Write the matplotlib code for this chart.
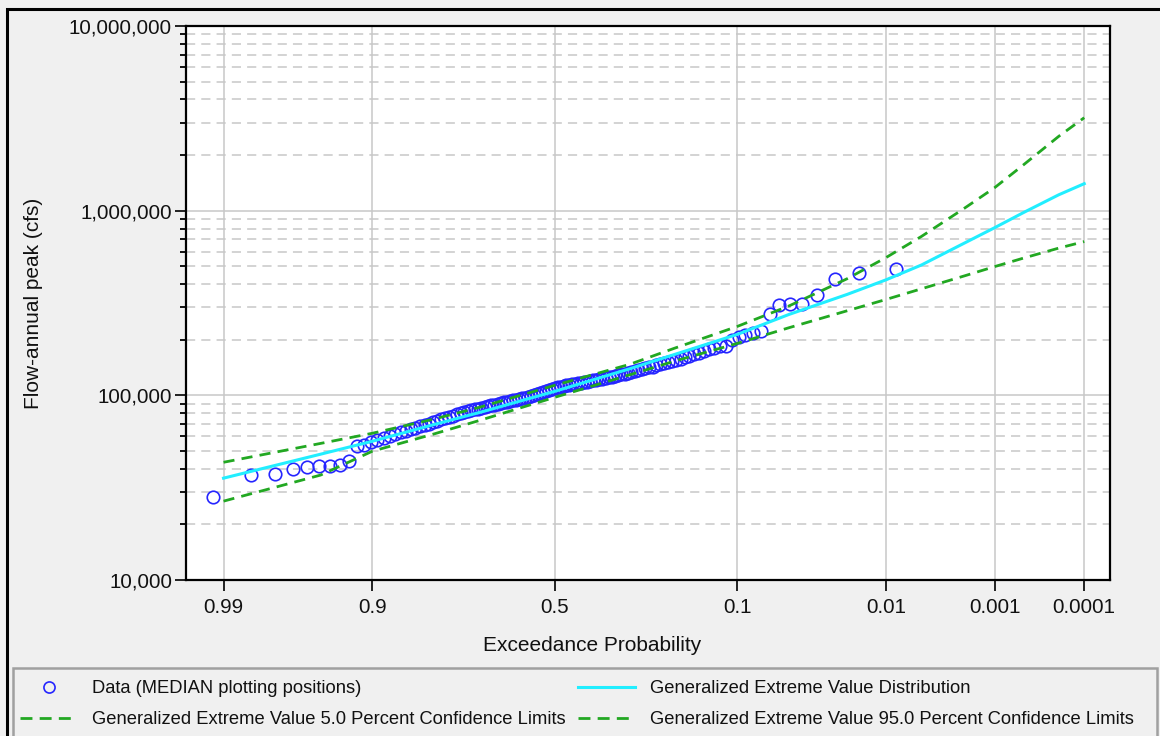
"""GEV frequency curve - annual peak flow, exceedance probability plot."""
import statistics
import numpy as np
import matplotlib
matplotlib.use("Agg")
import matplotlib.pyplot as plt
from matplotlib.ticker import FixedLocator, NullLocator, LogLocator, FuncFormatter, NullFormatter
from matplotlib.lines import Line2D
from matplotlib.patches import Rectangle

plt.rcParams["font.family"] = ["Liberation Sans", "DejaVu Sans"]

# observed annual peaks (cfs), ranked from largest to smallest
flows = [486000, 462000, 424000, 351000, 314000, 313000, 310000, 277000,
         221800, 216600, 211000, 205900, 198500, 186000,
         184000, 179500, 177300, 172900, 168700, 166600, 162500, 160500, 156600, 154700,
         152700, 150800, 148900, 147100, 145300, 142600, 141700, 140000, 138200, 136500, 134800, 133200,
         131500, 130700, 129900, 128300, 126700, 125900, 125100, 123600, 122800, 122000, 121300, 120500, 119000,
         118300, 117500, 116800, 116100, 115400, 114700, 114000, 113300, 111800, 111100, 110500, 109100,
         107800, 106400, 105100, 103800, 102500, 101200, 100000, 98800, 97500, 96900, 96300, 95100, 94500, 93950,
         92800, 92200, 91700, 90500, 89400, 88800, 88300, 87200, 86100, 85100, 84500, 84000, 83000, 81900, 80900,
         79900, 78900, 77500, 76100, 75100, 74200, 72800, 71500, 70200, 68900, 68000, 66700, 65500, 64300, 63100, 61600,
         60000, 58600, 57100, 55700, 54100, 53000,
         44000, 42000, 41500, 41300, 41000, 39800, 37500, 37200, 28100]

# fitted curve + confidence limits, read at these exceedance probabilities
curve_p = [0.99, 0.95, 0.9, 0.8, 0.7, 0.5, 0.3, 0.2, 0.1, 0.05, 0.02, 0.01,
           0.005, 0.002, 0.001, 0.0005, 0.0002, 0.0001]
gev = [35600, 48000, 56400, 69700, 80900, 105100, 139100, 166500, 213700, 274100, 352000, 422000,
       508000, 668000, 809000, 975000, 1219000, 1400000]
gev_95 = [43400, 54900, 62300, 74600, 86300, 113300, 147000, 180000, 236000, 304700, 428000, 557000,
          725300, 1031600, 1333000, 1766000, 2527000, 3187000]
gev_05 = [26730, 36990, 49800, 62000, 73270, 97540, 129000, 153200, 191000, 232300, 287000, 330400,
          377500, 443600, 498000, 553000, 627000, 680000]

xticks = [0.99, 0.9, 0.5, 0.1, 0.01, 0.001, 0.0001]
xticklabels = ["0.99", "0.9", "0.5", "0.1", "0.01", "0.001", "0.0001"]

nd = statistics.NormalDist()

def fwd(p):
    p = np.clip(np.asarray(p, dtype=float), 1e-9, 1 - 1e-9)
    return np.vectorize(nd.inv_cdf, otypes=[float])(1 - p)

def inv(z):
    return 1 - np.vectorize(nd.cdf, otypes=[float])(np.asarray(z, dtype=float))

n = len(flows)
exceed = np.arange(1, n + 1) / (n + 1)

GREEN = "#22a822"
CYAN = "#22eeff"
BLUE = "#2525ff"
GRID = "#c8c8c8"
DASH = (4, 2.6)

fig = plt.figure(figsize=(11.6, 7.36), dpi=100, facecolor="#f0f0f0")
ax = fig.add_axes([186 / 1160, 1 - 580 / 736, 924 / 1160, 554 / 736])
ax.set_facecolor("white")
ax.set_xscale("function", functions=(fwd, inv))
ax.set_yscale("log")

ax.plot(exceed, flows, ls="none", marker="o", ms=9, mfc="none", mec=BLUE, mew=1.2, zorder=3)
ax.plot(curve_p, gev, color=CYAN, lw=2.2, zorder=4)
ax.plot(curve_p, gev_05, color=GREEN, lw=2, dashes=DASH, zorder=4)
ax.plot(curve_p, gev_95, color=GREEN, lw=2, dashes=DASH, zorder=4)

ax.xaxis.set_major_locator(FixedLocator(xticks))
ax.xaxis.set_minor_locator(NullLocator())
ax.set_xticklabels(xticklabels)
ax.set_xlim(float(inv(-2.59)), float(inv(3.90)))
ax.set_ylim(1e4, 1e7)
# frequent floods on the left, rare ones on the right
if ax.transData.transform((0.99, 1e5))[0] > ax.transData.transform((0.01, 1e5))[0]:
    ax.invert_xaxis()

ax.yaxis.set_major_locator(LogLocator(base=10))
ax.yaxis.set_minor_locator(LogLocator(base=10, subs=np.arange(2, 10)))
ax.yaxis.set_major_formatter(FuncFormatter(lambda v, _: f"{v:,.0f}"))
ax.yaxis.set_minor_formatter(NullFormatter())

ax.set_axisbelow(True)
ax.grid(which="major", axis="both", color=GRID, lw=1.1, ls="-")
ax.grid(which="minor", axis="y", color=GRID, lw=1.1, ls=(0, (6, 4)))

ax.tick_params(axis="both", which="major", labelsize=14.8, colors="#111111", direction="out")
ax.tick_params(axis="x", which="major", length=8, width=1.3, pad=5)
ax.tick_params(axis="y", which="major", length=8, width=1.3, pad=2)
ax.tick_params(axis="y", which="minor", length=4.5, width=1.3, direction="out")
for s in ax.spines.values():
    s.set_linewidth(1.6)
    s.set_color("black")

ax.set_xlabel("Exceedance Probability", fontsize=15, color="#111111")
ax.set_ylabel("Flow-annual peak (cfs)", fontsize=15, color="#111111")
ax.xaxis.set_label_coords(0.44, -0.101)
ax.yaxis.set_label_coords(-0.1548, 0.5)

handles = [
    Line2D([], [], ls="none", marker="o", ms=8, mfc="none", mec=BLUE, mew=1.2),
    Line2D([], [], color=GREEN, lw=2, dashes=(4.3, 2.6)),
    Line2D([], [], color=CYAN, lw=2.2),
    Line2D([], [], color=GREEN, lw=2, dashes=(4.3, 2.6)),
]
labels = [
    "Data (MEDIAN plotting positions)",
    "Generalized Extreme Value 5.0 Percent Confidence Limits",
    "Generalized Extreme Value Distribution",
    "Generalized Extreme Value 95.0 Percent Confidence Limits",
]
# legend box frame drawn separately, entries placed inside it
fig.patches.append(Rectangle((13 / 1160, -0.05), 1144 / 1160, 1 - 668 / 736 + 0.05,
                             transform=fig.transFigure, fc="#f0f0f0", ec="#a0a0a0", lw=1.8))
leg = fig.legend(handles, labels, loc="upper left", ncol=2, mode="expand",
                 bbox_to_anchor=(9 / 1160, 1 - 676 / 736, 1136 / 1160, 0.01),
                 fontsize=13.2, handlelength=3.1, handletextpad=0.82,
                 labelspacing=0.78, borderpad=0.62, borderaxespad=0,
                 frameon=False)
for t in leg.get_texts():
    t.set_color("#111111")

# outer window frame
fig.patches.append(Rectangle((7 / 1160, -0.05), 1.1, 1 - 9 / 736 + 0.05,
                             transform=fig.transFigure, fill=False, ec="black", lw=2.2))

fig.savefig("out.png", dpi=100, facecolor=fig.get_facecolor())
print("saved out.png")
